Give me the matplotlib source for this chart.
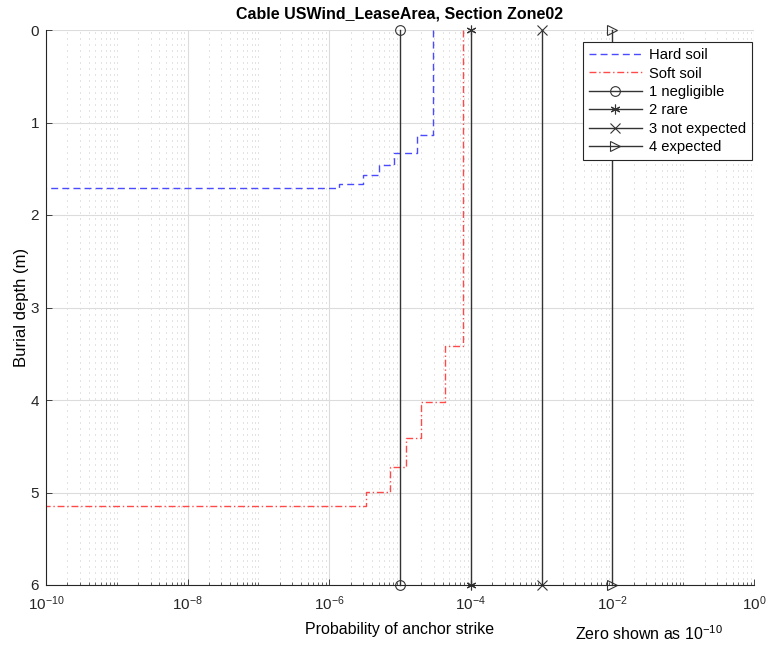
import numpy as np
import matplotlib
matplotlib.use("Agg")
import matplotlib.pyplot as plt
from matplotlib.ticker import LogLocator, NullFormatter, LogFormatterMathtext

plt.rcParams['font.family'] = ['Liberation Sans', 'DejaVu Sans']
plt.rcParams['mathtext.fontset'] = 'custom'
plt.rcParams['mathtext.rm'] = 'Liberation Sans'
plt.rcParams['mathtext.it'] = 'Liberation Sans:italic'

# profili a gradini (profondita' di interramento vs probabilita')
hard_depth = [0, 1.135, 1.33, 1.46, 1.57, 1.66, 1.71]
hard_prob = [2.9e-5, 1.76e-5, 8.3e-6, 5.0e-6, 3.0e-6, 1.38e-6, 1e-10]
soft_depth = [0, 3.42, 4.02, 4.41, 4.72, 4.99, 5.15]
soft_prob = [7.8e-5, 4.3e-5, 1.95e-5, 1.22e-5, 7.2e-6, 3.3e-6, 1e-10]

# soglie di categoria
cat_labels = ["1 negligible", "2 rare", "3 not expected", "4 expected"]
cat_prob = [1e-5, 1e-4, 1e-3, 1e-2]
cat_markers = ["o", (6, 2, 0), "x", ">"]
depth_range = [0, 6]

fig = plt.figure(figsize=(7.69, 6.47), dpi=100)
ax = fig.add_axes([46 / 769, 1 - 585 / 647, 708 / 769, 555 / 647])

ax.plot(hard_prob, hard_depth, drawstyle="steps-pre", color="#4a4aff",
        lw=1, dashes=[5, 3], label="Hard soil")
ax.plot(soft_prob, soft_depth, drawstyle="steps-pre", color="#ff4a4a",
        lw=1, dashes=[5, 2, 1, 2], label="Soft soil")

for p, lab, m in zip(cat_prob, cat_labels, cat_markers):
    ax.plot([p, p], depth_range, color="#333333", lw=1, marker=m,
            markersize=7, markerfacecolor="none", markeredgecolor="#333333",
            markeredgewidth=0.8, clip_on=False, label=lab)

ax.set_xscale("log")
ax.set_xlim(1e-10, 1)
ax.set_ylim(6, 0)
ax.set_xticks([1e-10, 1e-8, 1e-6, 1e-4, 1e-2, 1])
ax.xaxis.set_major_formatter(LogFormatterMathtext())
ax.xaxis.set_minor_locator(LogLocator(base=10, subs=np.arange(1, 10), numticks=100))
ax.xaxis.set_minor_formatter(NullFormatter())
ax.set_yticks(range(7))

ax.grid(True, which="major", color="#dcdcdc", lw=0.8, ls="-")
ax.grid(True, which="minor", axis="x", color="#c8c8c8", lw=0.72, ls=(0, (1, 5)))
ax.set_axisbelow(True)

for s in ["top", "right"]:
    ax.spines[s].set_visible(False)
for s in ["left", "bottom"]:
    ax.spines[s].set_color("#262626")
    ax.spines[s].set_linewidth(0.8)

ax.tick_params(which="both", direction="in", colors="#262626", labelsize=11)
ax.tick_params(which="major", length=4, width=0.6)
ax.tick_params(which="minor", length=2.5, width=0.5)
ax.tick_params(axis="x", which="major", pad=7)
ax.tick_params(axis="y", which="major", pad=5)

ax.set_title("Cable USWind_LeaseArea, Section Zone02", fontsize=11.5,
             fontweight="bold", pad=8)
ax.set_xlabel("Probability of anchor strike", fontsize=11.5, labelpad=6)
ax.set_ylabel("Burial depth (m)", fontsize=12, labelpad=1)

leg = ax.legend(loc="upper right", bbox_to_anchor=(0.997, 0.978),
                borderaxespad=0, fontsize=10.6, fancybox=False,
                framealpha=1, edgecolor="#262626", handlelength=3.6,
                labelspacing=0.3, handletextpad=0.5, borderpad=0.4)
leg.get_frame().set_linewidth(0.8)

fig.text(575 / 769, 1 - 634 / 647, r"Zero shown as 10$^{-10}$", fontsize=11.5,
         ha="left", va="center")

fig.savefig("out.png", dpi=100)
